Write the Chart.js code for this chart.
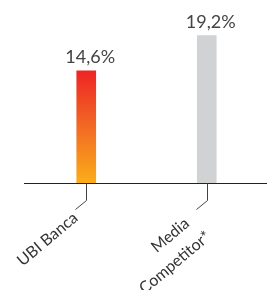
<!DOCTYPE html>
<html>
<head>
<meta charset="utf-8">
<script src="https://cdn.jsdelivr.net/npm/chart.js@4"></script>
<style>
  html, body { margin: 0; padding: 0; background: #fff; }
  .container { width: 267px; height: 290px; position: relative; }
</style>
</head>
<body>
<div class="container"><canvas id="myChart"></canvas></div>
<script>
// chart data
const categories = [["UBI Banca"], ["Media", "Competitor*"]]
const values = [14.6, 19.2]
const valueLabels = ["14,6%", "19,2%"]

const fontFamily = "Lato, 'Open Sans', sans-serif"

// bar colours: gradient for the first, flat grey for the second
function barColor(context) {
    const chart = context.chart
    const area = chart.chartArea
    if (!area) return "#f15a24"
    if (context.dataIndex == 1) return "#d1d2d4"
    const y = chart.scales.y
    const top = y.getPixelForValue(values[0])
    const bottom = y.getPixelForValue(0)
    const g = chart.ctx.createLinearGradient(0, top, 0, bottom)
    g.addColorStop(0, "#ee2424")
    g.addColorStop(0.5, "#f26a24")
    g.addColorStop(1, "#fbad18")
    return g
}

// axis line, value labels, leader lines and rotated category labels
const decorations = {
    id: "decorations",
    afterDatasetsDraw(chart) {
        const ctx = chart.ctx
        const area = chart.chartArea
        const x = chart.scales.x
        const y = chart.scales.y
        const meta = chart.getDatasetMeta(0)
        const base = Math.round(y.getPixelForValue(0)) + 0.5

        ctx.save()
        ctx.strokeStyle = "#222"
        ctx.lineWidth = 1
        ctx.beginPath()
        ctx.moveTo(area.left - 2, base)
        ctx.lineTo(chart.width, base)
        ctx.stroke()

        ctx.fillStyle = "#444"
        ctx.font = "18px " + fontFamily
        ctx.textAlign = "center"
        ctx.textBaseline = "alphabetic"
        meta.data.forEach((bar, i) => {
            ctx.fillText(valueLabels[i], bar.x + 4, bar.y - 8)
        })

        const angle = -40 * Math.PI / 180
        categories.forEach((lines, i) => {
            const tx = Math.round(x.getPixelForValue(i)) + 0.5
            ctx.strokeStyle = "#444"
            ctx.lineWidth = 1
            ctx.beginPath()
            ctx.moveTo(tx, base)
            ctx.lineTo(tx, base + 17)
            ctx.lineTo(tx - 11, base + 26)
            ctx.stroke()

            ctx.save()
            ctx.translate(tx - 16, base + 26)
            ctx.rotate(angle)
            ctx.font = "16px " + fontFamily
            ctx.fillStyle = "#333"
            ctx.textAlign = "right"
            ctx.textBaseline = "top"
            const multi = lines.length > 1
            lines.forEach((line, j) => {
                const lx = multi ? -11 + 8 * j : 0
                const ly = multi ? -2 + 24 * j : 0
                ctx.fillText(line, lx, ly)
            })
            ctx.restore()
        })
        ctx.restore()
    }
}

new Chart(document.getElementById("myChart"), {
    type: "bar",
    data: {
        labels: categories,
        datasets: [{
            data: values,
            backgroundColor: barColor,
            barThickness: 19
        }]
    },
    options: {
        responsive: true,
        maintainAspectRatio: false,
        animation: false,
        layout: {
            padding: { left: 26, right: -2, top: 14, bottom: 107 }
        },
        plugins: {
            legend: { display: false },
            tooltip: { enabled: false }
        },
        scales: {
            x: { display: false },
            y: {
                display: false,
                min: 0,
                max: 22
            }
        }
    },
    plugins: [decorations]
})
</script>
</body>
</html>
